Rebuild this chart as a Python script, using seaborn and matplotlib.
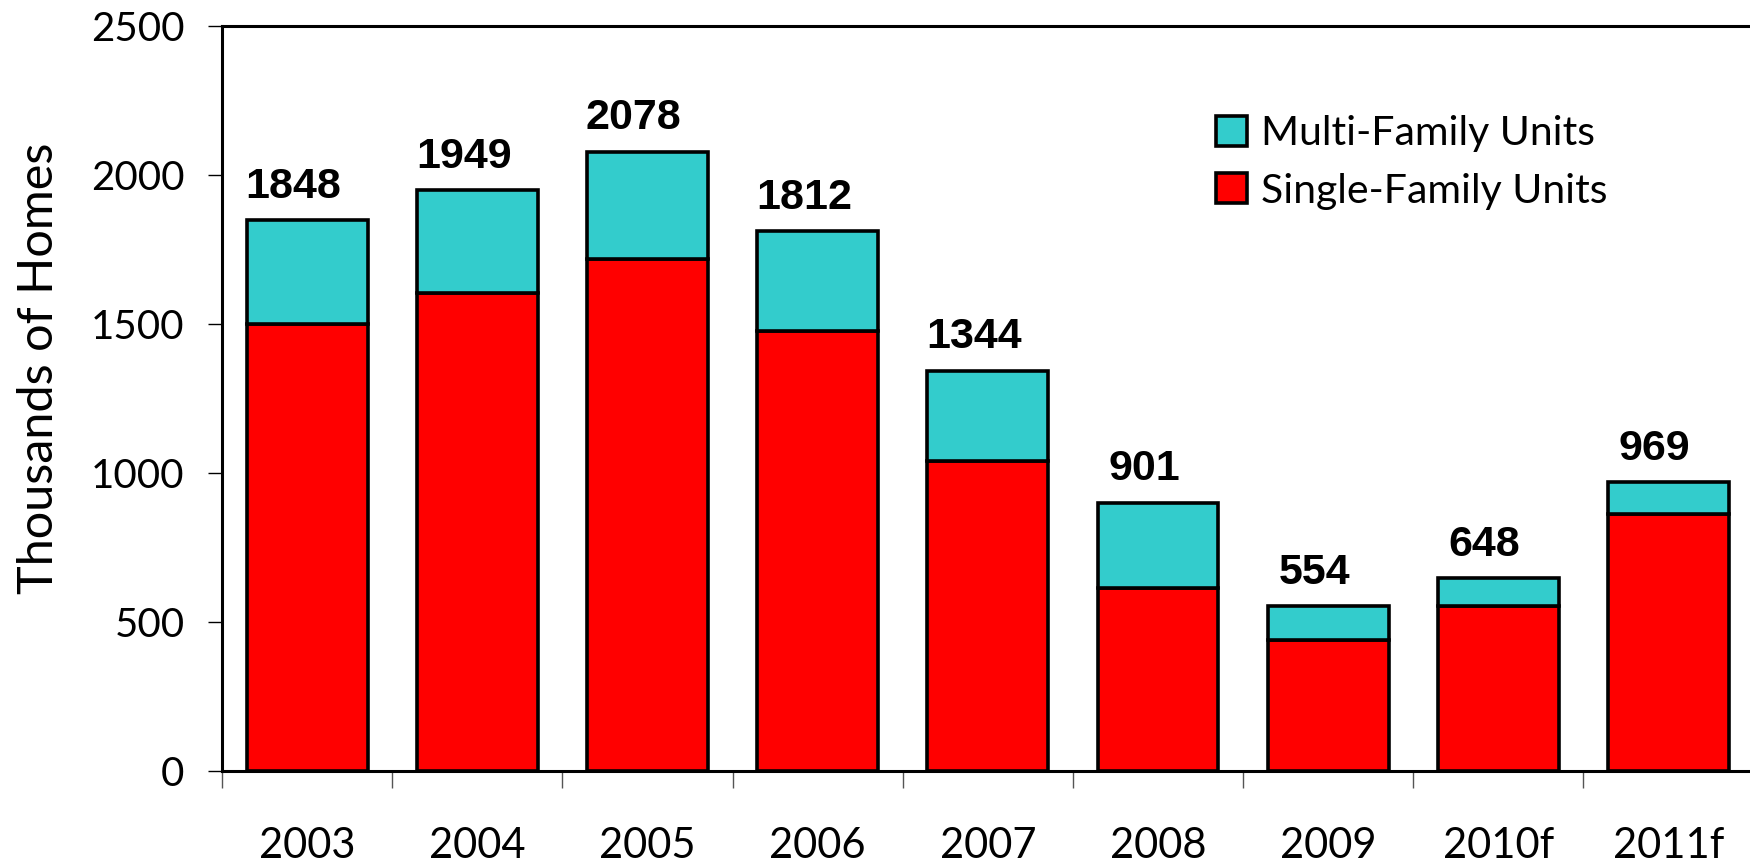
import matplotlib
matplotlib.use("Agg")
import matplotlib.pyplot as plt
import seaborn as sns
import pandas as pd
from matplotlib.patches import Patch
from matplotlib.ticker import FixedLocator

years = ["2003", "2004", "2005", "2006", "2007", "2008", "2009", "2010f", "2011f"]
single_family = [1500, 1604, 1718, 1475, 1042, 614, 441, 555, 862]
multi_family = [348, 345, 360, 337, 302, 287, 113, 93, 107]
totals = [1848, 1949, 2078, 1812, 1344, 901, 554, 648, 969]

df = pd.DataFrame({"year": years, "single": single_family, "multi": multi_family})

sns.set_style("white")
plt.rcParams["font.family"] = ["Lato", "DejaVu Sans"]
plt.rcParams["text.color"] = "black"
plt.rcParams["axes.labelcolor"] = "black"
plt.rcParams["xtick.color"] = "black"
plt.rcParams["ytick.color"] = "black"

fig = plt.figure(figsize=(17.5, 8.67), dpi=100)
ax = fig.add_axes([0.1269, 0.1107, 0.8751, 0.8593])

red = "#FF0000"
cyan = "#33CCCC"

# single-family on the bottom, multi-family stacked on top
sns.barplot(data=df, x="year", y="single", color=red, width=0.71,
            edgecolor="black", linewidth=2.6, saturation=1, ax=ax)
sns.barplot(data=df, x="year", y="multi", bottom=df["single"], color=cyan, width=0.71,
            edgecolor="black", linewidth=2.6, saturation=1, ax=ax)

# totals above each bar
for i, t in enumerate(totals):
    ax.text(i - 0.08, t + 45, str(t), ha="center", va="bottom", color="black",
            fontsize=31, fontweight="bold", family="Liberation Sans")

ax.set_xlim(-0.5, 8.5)
ax.set_ylim(0, 2500)
ax.set_yticks([0, 500, 1000, 1500, 2000, 2500])
ax.tick_params(axis="y", labelsize=29, length=10, width=1, direction="out", pad=17, left=True)

# category labels without ticks, short ticks between categories
ax.tick_params(axis="x", which="major", length=0, labelsize=30, pad=40)
ax.xaxis.set_minor_locator(FixedLocator([i - 0.5 for i in range(len(years) + 1)]))
ax.tick_params(axis="x", which="minor", length=12, width=1, color="#555555", direction="out", bottom=True)

ax.set_xlabel("")
ax.set_ylabel("Thousands of Homes", fontsize=35)
ax.yaxis.set_label_coords(-0.105, 0.54)

for side in ["left", "top", "bottom"]:
    ax.spines[side].set_visible(True)
    ax.spines[side].set_color("black")
    ax.spines[side].set_linewidth(2.2)
ax.spines["right"].set_visible(False)

handles = [Patch(facecolor=cyan, edgecolor="black", linewidth=2.6, label="Multi-Family Units"),
           Patch(facecolor=red, edgecolor="black", linewidth=2.6, label="Single-Family Units")]
ax.legend(handles=handles, loc="upper left", bbox_to_anchor=(0.625, 0.93), frameon=False,
          fontsize=29.5, handlelength=0.75, handleheight=0.75, handletextpad=0.35, labelspacing=0.5)

fig.savefig("out.png", dpi=100)
